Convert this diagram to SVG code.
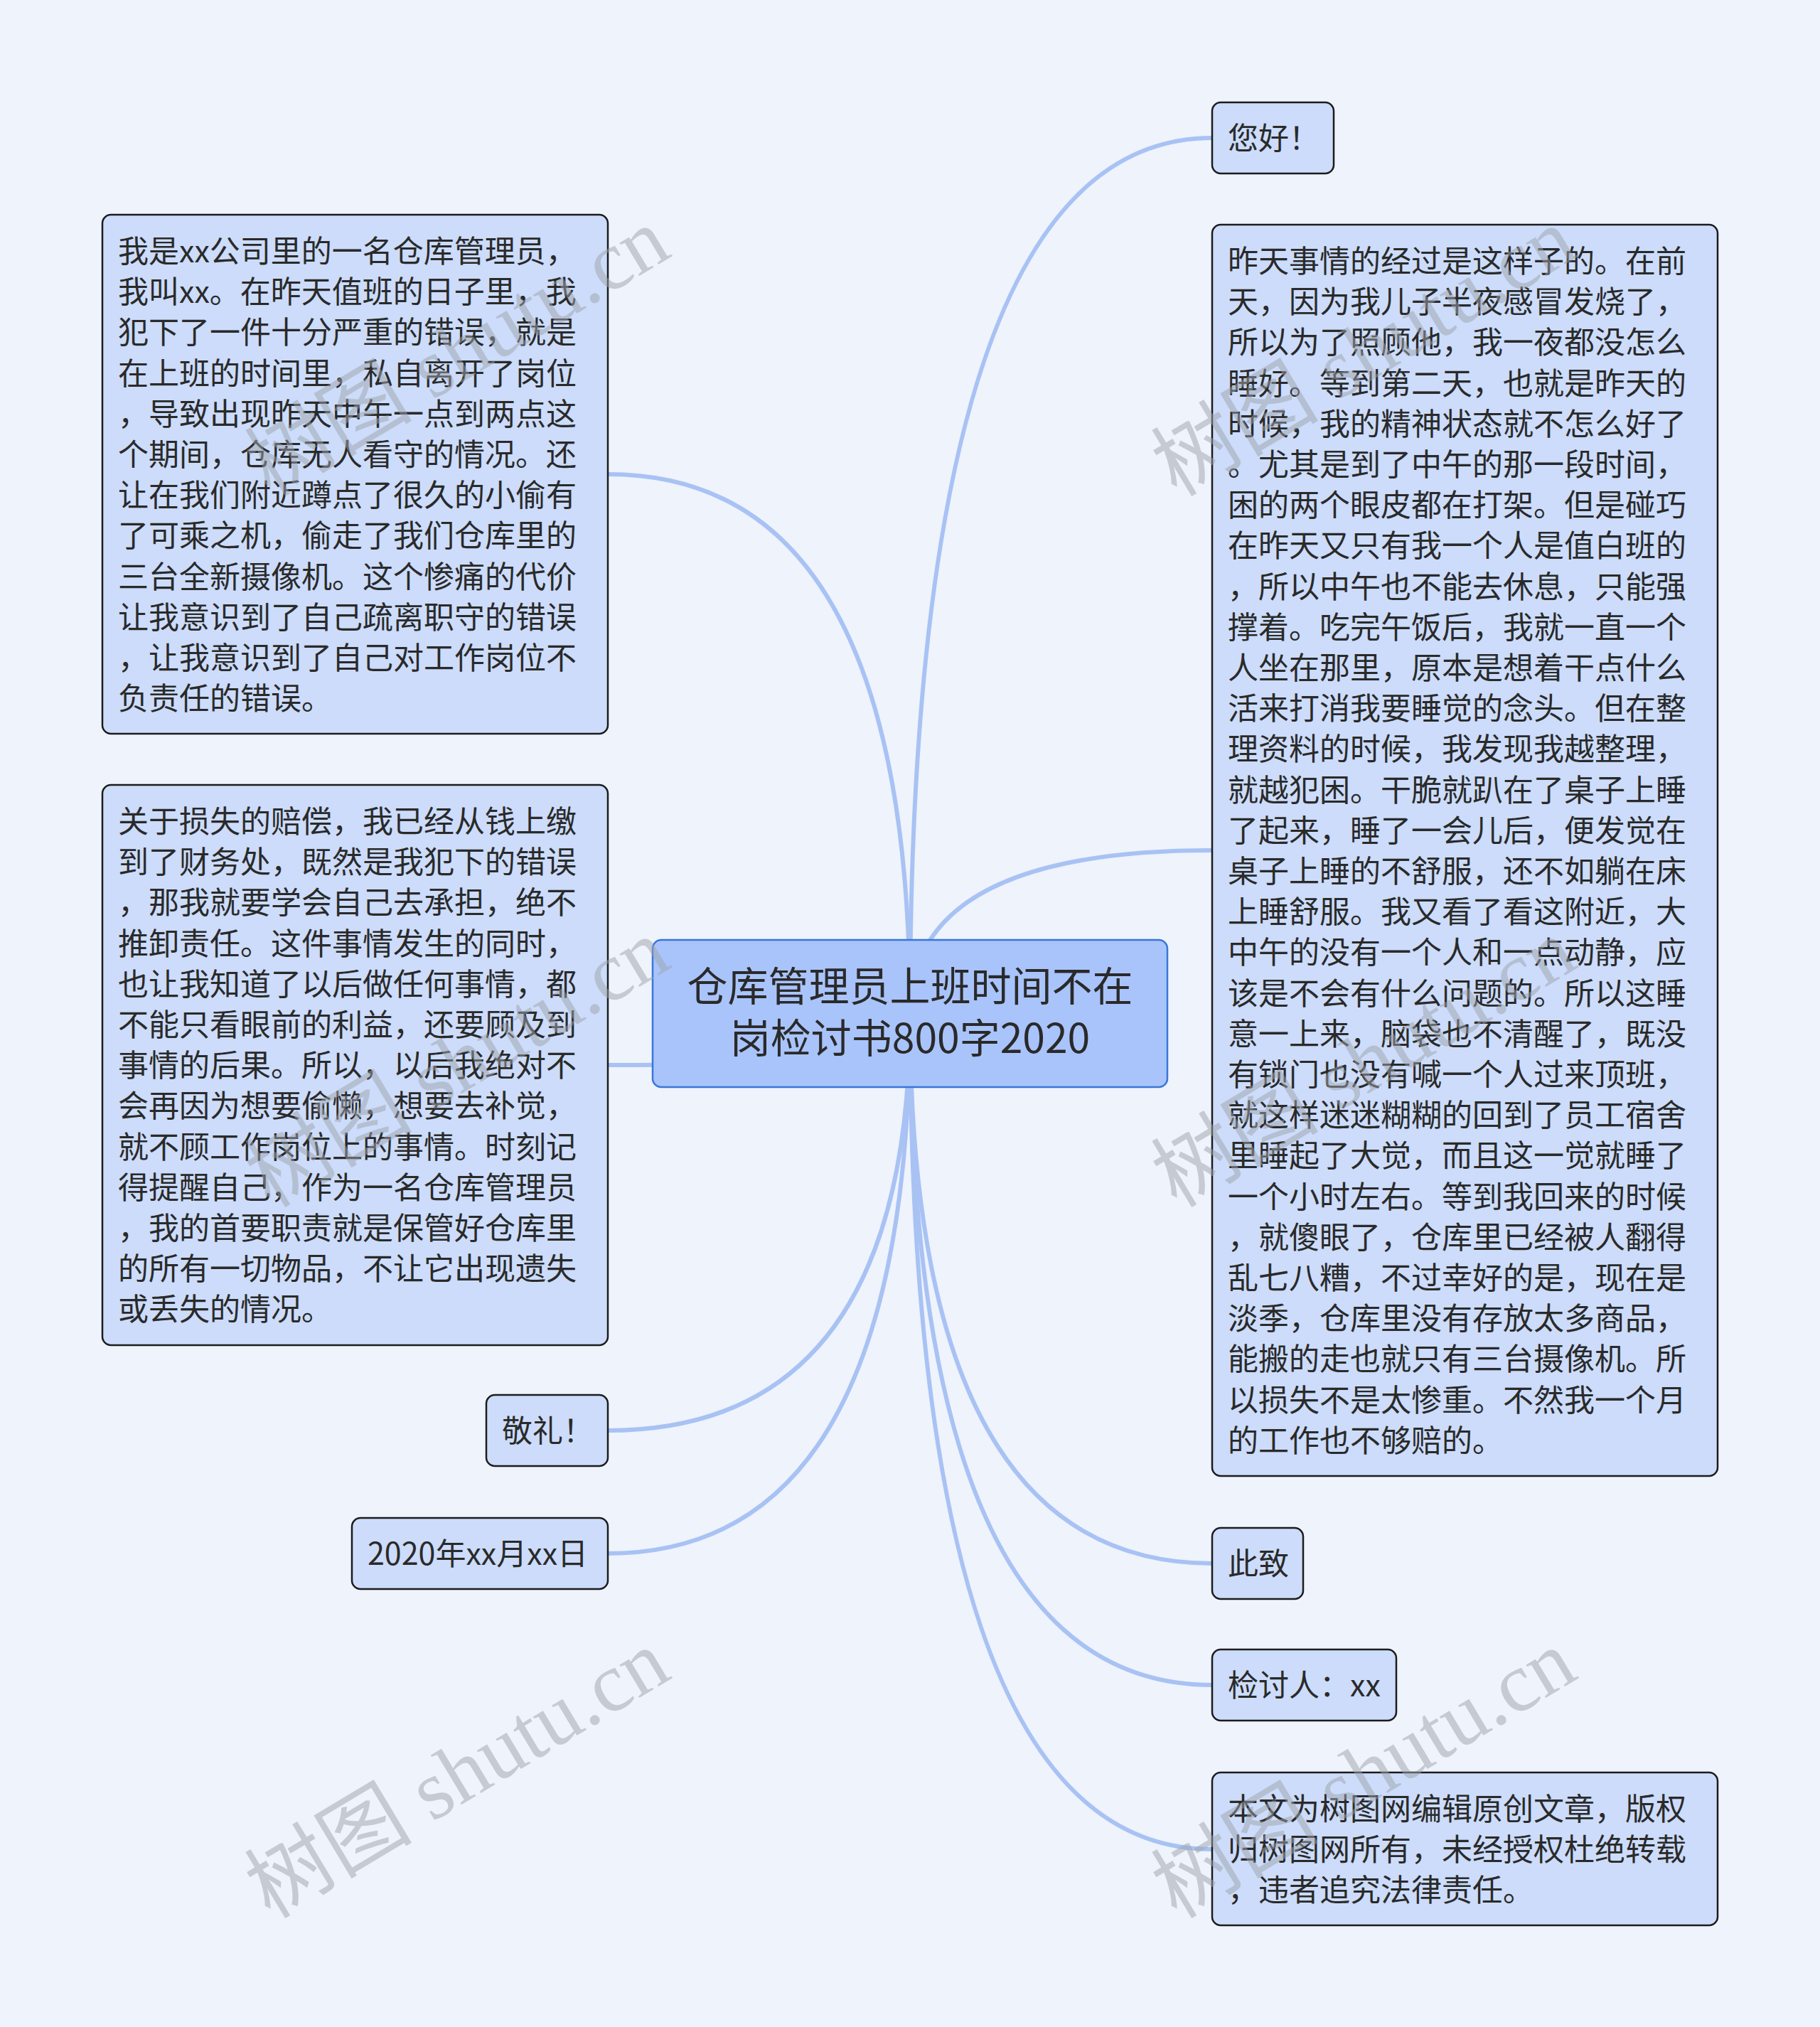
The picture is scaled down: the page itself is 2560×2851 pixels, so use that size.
<svg xmlns="http://www.w3.org/2000/svg" width="2560" height="2851" viewBox="0 0 2560 2851">
<style>
.bg{fill:#eef3fc}
.node{fill:#ccdcfa;stroke:#1c1c1c;stroke-width:2.5}
.root{fill:#a9c4fb;stroke:#3a76d8;stroke-width:2.5}
.t{font-family:"Noto Sans CJK SC","Noto Sans",sans-serif;font-size:43px;fill:#2a2a2a}
.rt{font-family:"Noto Sans CJK SC","Noto Sans",sans-serif;font-size:57px;fill:#2a2a2a;text-anchor:middle}
.edge{fill:none;stroke:#a9c2f4;stroke-width:6;stroke-linecap:round}
.wm{font-family:"Liberation Serif","Noto Sans CJK SC",serif;font-size:118px;fill:#9ea3ab;opacity:0.5}
</style>
<rect class="bg" x="0" y="0" width="2560" height="2851"/>
<g id="connectors">
<path class="edge" d="M1280,1425 Q1280,194 1705,194"/>
<path class="edge" d="M1280,1425 Q1280,1196 1705,1196"/>
<path class="edge" d="M1280,1425 Q1280,2199 1705,2199"/>
<path class="edge" d="M1280,1425 Q1280,2370 1705,2370"/>
<path class="edge" d="M1280,1425 Q1280,2601 1705,2601"/>
<path class="edge" d="M1280,1425 Q1280,667 855,667"/>
<path class="edge" d="M1280,1425 Q1280,1498 855,1498"/>
<path class="edge" d="M1280,1425 Q1280,2012 855,2012"/>
<path class="edge" d="M1280,1425 Q1280,2185 855,2185"/>
</g>
<g id="root">
<rect class="root" x="918" y="1322" width="724" height="207" rx="12"/>
<text class="rt" x="1280" y="1408">仓库管理员上班时间不在</text>
<text class="rt" x="1280" y="1481">岗检讨书800字2020</text>
</g>
<g id="n-hello">
<rect class="node" x="1705" y="144" width="171" height="100" rx="12"/>
<text class="t" x="1727" y="210">您好！</text>
</g>
<g id="n-story">
<rect class="node" x="1705" y="316" width="711" height="1760" rx="12"/>
<text class="t">
<tspan x="1727" y="383">昨天事情的经过是这样子的。在前</tspan>
<tspan x="1727" y="440.2">天，因为我儿子半夜感冒发烧了，</tspan>
<tspan x="1727" y="497.4">所以为了照顾他，我一夜都没怎么</tspan>
<tspan x="1727" y="554.6">睡好。等到第二天，也就是昨天的</tspan>
<tspan x="1727" y="611.8">时候，我的精神状态就不怎么好了</tspan>
<tspan x="1727" y="669">。尤其是到了中午的那一段时间，</tspan>
<tspan x="1727" y="726.2">困的两个眼皮都在打架。但是碰巧</tspan>
<tspan x="1727" y="783.4">在昨天又只有我一个人是值白班的</tspan>
<tspan x="1727" y="840.6">，所以中午也不能去休息，只能强</tspan>
<tspan x="1727" y="897.8">撑着。吃完午饭后，我就一直一个</tspan>
<tspan x="1727" y="955">人坐在那里，原本是想着干点什么</tspan>
<tspan x="1727" y="1012.2">活来打消我要睡觉的念头。但在整</tspan>
<tspan x="1727" y="1069.4">理资料的时候，我发现我越整理，</tspan>
<tspan x="1727" y="1126.6">就越犯困。干脆就趴在了桌子上睡</tspan>
<tspan x="1727" y="1183.8">了起来，睡了一会儿后，便发觉在</tspan>
<tspan x="1727" y="1241">桌子上睡的不舒服，还不如躺在床</tspan>
<tspan x="1727" y="1298.2">上睡舒服。我又看了看这附近，大</tspan>
<tspan x="1727" y="1355.4">中午的没有一个人和一点动静，应</tspan>
<tspan x="1727" y="1412.6">该是不会有什么问题的。所以这睡</tspan>
<tspan x="1727" y="1469.8">意一上来，脑袋也不清醒了，既没</tspan>
<tspan x="1727" y="1527">有锁门也没有喊一个人过来顶班，</tspan>
<tspan x="1727" y="1584.2">就这样迷迷糊糊的回到了员工宿舍</tspan>
<tspan x="1727" y="1641.4">里睡起了大觉，而且这一觉就睡了</tspan>
<tspan x="1727" y="1698.6">一个小时左右。等到我回来的时候</tspan>
<tspan x="1727" y="1755.8">，就傻眼了，仓库里已经被人翻得</tspan>
<tspan x="1727" y="1813">乱七八糟，不过幸好的是，现在是</tspan>
<tspan x="1727" y="1870.2">淡季，仓库里没有存放太多商品，</tspan>
<tspan x="1727" y="1927.4">能搬的走也就只有三台摄像机。所</tspan>
<tspan x="1727" y="1984.6">以损失不是太惨重。不然我一个月</tspan>
<tspan x="1727" y="2041.8">的工作也不够赔的。</tspan>
</text>
</g>
<g id="n-zhizhi">
<rect class="node" x="1705" y="2149" width="128" height="100" rx="12"/>
<text class="t" x="1727" y="2215">此致</text>
</g>
<g id="n-author">
<rect class="node" x="1705" y="2320" width="259" height="100" rx="12"/>
<text class="t" x="1727" y="2386">检讨人：xx</text>
</g>
<g id="n-copyright">
<rect class="node" x="1705" y="2493" width="711" height="215" rx="12"/>
<text class="t">
<tspan x="1727" y="2560">本文为树图网编辑原创文章，版权</tspan>
<tspan x="1727" y="2617.2">归树图网所有，未经授权杜绝转载</tspan>
<tspan x="1727" y="2674.4">，违者追究法律责任。</tspan>
</text>
</g>
<g id="n-intro">
<rect class="node" x="144" y="302" width="711" height="730" rx="12"/>
<text class="t">
<tspan x="166" y="369">我是xx公司里的一名仓库管理员，</tspan>
<tspan x="166" y="426.2">我叫xx。在昨天值班的日子里，我</tspan>
<tspan x="166" y="483.4">犯下了一件十分严重的错误，就是</tspan>
<tspan x="166" y="540.6">在上班的时间里，私自离开了岗位</tspan>
<tspan x="166" y="597.8">，导致出现昨天中午一点到两点这</tspan>
<tspan x="166" y="655">个期间，仓库无人看守的情况。还</tspan>
<tspan x="166" y="712.2">让在我们附近蹲点了很久的小偷有</tspan>
<tspan x="166" y="769.4">了可乘之机，偷走了我们仓库里的</tspan>
<tspan x="166" y="826.6">三台全新摄像机。这个惨痛的代价</tspan>
<tspan x="166" y="883.8">让我意识到了自己疏离职守的错误</tspan>
<tspan x="166" y="941">，让我意识到了自己对工作岗位不</tspan>
<tspan x="166" y="998.2">负责任的错误。</tspan>
</text>
</g>
<g id="n-compensation">
<rect class="node" x="144" y="1104" width="711" height="788" rx="12"/>
<text class="t">
<tspan x="166" y="1171">关于损失的赔偿，我已经从钱上缴</tspan>
<tspan x="166" y="1228.2">到了财务处，既然是我犯下的错误</tspan>
<tspan x="166" y="1285.4">，那我就要学会自己去承担，绝不</tspan>
<tspan x="166" y="1342.6">推卸责任。这件事情发生的同时，</tspan>
<tspan x="166" y="1399.8">也让我知道了以后做任何事情，都</tspan>
<tspan x="166" y="1457">不能只看眼前的利益，还要顾及到</tspan>
<tspan x="166" y="1514.2">事情的后果。所以，以后我绝对不</tspan>
<tspan x="166" y="1571.4">会再因为想要偷懒，想要去补觉，</tspan>
<tspan x="166" y="1628.6">就不顾工作岗位上的事情。时刻记</tspan>
<tspan x="166" y="1685.8">得提醒自己，作为一名仓库管理员</tspan>
<tspan x="166" y="1743">，我的首要职责就是保管好仓库里</tspan>
<tspan x="166" y="1800.2">的所有一切物品，不让它出现遗失</tspan>
<tspan x="166" y="1857.4">或丢失的情况。</tspan>
</text>
</g>
<g id="n-salute">
<rect class="node" x="684" y="1962" width="171" height="100" rx="12"/>
<text class="t" x="706" y="2028">敬礼！</text>
</g>
<g id="n-date">
<rect class="node" x="495" y="2135" width="360" height="100" rx="12"/>
<text class="t" x="517" y="2201">2020年xx月xx日</text>
</g>
<g id="watermarks">
<text class="wm" transform="translate(380,2700) rotate(-31)">树图 shutu.cn</text>
<text class="wm" transform="translate(1655,2700) rotate(-31)">树图 shutu.cn</text>
<text class="wm" transform="translate(380,1700) rotate(-31)">树图 shutu.cn</text>
<text class="wm" transform="translate(1655,1700) rotate(-31)">树图 shutu.cn</text>
<text class="wm" transform="translate(380,700) rotate(-31)">树图 shutu.cn</text>
<text class="wm" transform="translate(1655,700) rotate(-31)">树图 shutu.cn</text>
</g>
</svg>
